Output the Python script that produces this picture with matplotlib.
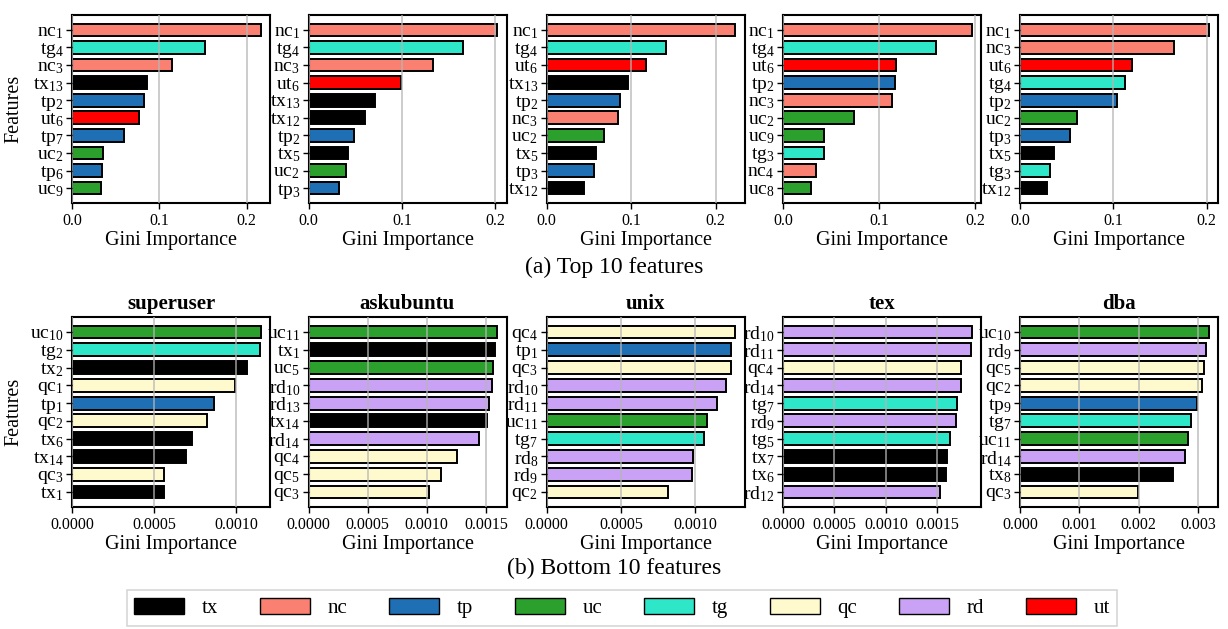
import matplotlib
matplotlib.use("Agg")
import matplotlib.pyplot as plt
from matplotlib.patches import Patch
from matplotlib.ticker import MultipleLocator, FormatStrFormatter

plt.rcParams["font.family"] = ["Liberation Serif", "DejaVu Serif"]
plt.rcParams["mathtext.fontset"] = "custom"
plt.rcParams["mathtext.rm"] = "Liberation Serif"
plt.rcParams["mathtext.it"] = "Liberation Serif:italic"
plt.rcParams["mathtext.bf"] = "Liberation Serif:bold"

# Feature-group colours
group_colors = {
    "tx": "#000000",
    "nc": "#FA8072",
    "tp": "#1F6FB4",
    "uc": "#2CA02C",
    "tg": "#2EE6C8",
    "qc": "#FFFACD",
    "rd": "#C9A2F6",
    "ut": "#FF0000",
}
legend_groups = ["tx", "nc", "tp", "uc", "tg", "qc", "rd", "ut"]

sites = ["superuser", "askubuntu", "unix", "tex", "dba"]

# Top 10 features per site (highest importance first)
top_features = [
    ["nc1", "tg4", "nc3", "tx13", "tp2", "ut6", "tp7", "uc2", "tp6", "uc9"],
    ["nc1", "tg4", "nc3", "ut6", "tx13", "tx12", "tp2", "tx5", "uc2", "tp3"],
    ["nc1", "tg4", "ut6", "tx13", "tp2", "nc3", "uc2", "tx5", "tp3", "tx12"],
    ["nc1", "tg4", "ut6", "tp2", "nc3", "uc2", "uc9", "tg3", "nc4", "uc8"],
    ["nc1", "nc3", "ut6", "tg4", "tp2", "uc2", "tp3", "tx5", "tg3", "tx12"],
]
top_values = [
    [0.216, 0.152, 0.114, 0.086, 0.083, 0.077, 0.060, 0.035, 0.034, 0.033],
    [0.202, 0.165, 0.133, 0.099, 0.071, 0.061, 0.049, 0.042, 0.040, 0.033],
    [0.223, 0.141, 0.118, 0.096, 0.087, 0.084, 0.068, 0.058, 0.056, 0.044],
    [0.196, 0.159, 0.117, 0.116, 0.113, 0.074, 0.043, 0.043, 0.034, 0.029],
    [0.202, 0.165, 0.120, 0.112, 0.104, 0.061, 0.054, 0.036, 0.032, 0.029],
]

# Bottom 10 features per site
bottom_features = [
    ["uc10", "tg2", "tx2", "qc1", "tp1", "qc2", "tx6", "tx14", "qc3", "tx1"],
    ["uc11", "tx1", "uc5", "rd10", "rd13", "tx14", "rd14", "qc4", "qc5", "qc3"],
    ["qc4", "tp1", "qc3", "rd10", "rd11", "uc11", "tg7", "rd8", "rd9", "qc2"],
    ["rd10", "rd11", "qc4", "rd14", "tg7", "rd9", "tg5", "tx7", "tx6", "rd12"],
    ["uc10", "rd9", "qc5", "qc2", "tp9", "tg7", "uc11", "rd14", "tx8", "qc3"],
]
bottom_values = [
    [0.001150, 0.001144, 0.001065, 0.000992, 0.000866, 0.000824, 0.000731, 0.000693, 0.000564, 0.000563],
    [0.001594, 0.001577, 0.001563, 0.001549, 0.001523, 0.001512, 0.001444, 0.001253, 0.001120, 0.001016],
    [0.001268, 0.001243, 0.001239, 0.001210, 0.001144, 0.001081, 0.001061, 0.000983, 0.000981, 0.000815],
    [0.001832, 0.001826, 0.001732, 0.001728, 0.001693, 0.001680, 0.001618, 0.001592, 0.001583, 0.001530],
    [0.003175, 0.003125, 0.003103, 0.003064, 0.002979, 0.002878, 0.002828, 0.002777, 0.002580, 0.001990],
]

bottom_steps = [0.0005, 0.0005, 0.0005, 0.0005, 0.001]
bottom_formats = ["%.4f", "%.4f", "%.4f", "%.4f", "%.3f"]

W, H = 1228, 629
fig = plt.figure(figsize=(W / 100, H / 100), dpi=100)

col_left = [72, 308.5, 546.5, 783, 1020]
col_width = 198


def label_tex(name):
    grp = name[:2]
    idx = name[2:]
    return r"$\mathrm{%s}_{%s}$" % (grp, idx)


def draw_panel(ax, feats, vals, step, fmt):
    y = list(range(len(feats)))
    colors = [group_colors[f[:2]] for f in feats]
    ax.barh(y, vals, height=0.72, color=colors, edgecolor="black", linewidth=1.4)
    ax.set_yticks(y)
    ax.set_yticklabels([label_tex(f) for f in feats], fontsize=14)
    ax.invert_yaxis()
    ax.xaxis.set_major_locator(MultipleLocator(step))
    ax.xaxis.set_major_formatter(FormatStrFormatter(fmt))
    ax.tick_params(axis="x", labelsize=11.5, length=4, width=1, pad=3)
    ax.tick_params(axis="y", length=4, width=1, pad=2)
    ax.set_axisbelow(False)
    ax.grid(axis="x", color="#b5b5b5", linewidth=1.2, alpha=0.8)
    ax.grid(axis="y", visible=False)
    for s in ax.spines.values():
        s.set_linewidth(1.5)
        s.set_color("black")
    ax.set_xlabel("Gini Importance", fontsize=14.5, labelpad=2)


# Top row
for i in range(5):
    ax = fig.add_axes([col_left[i] / W, 1 - 203 / H, col_width / W, 188 / H])
    draw_panel(ax, top_features[i], top_values[i], 0.1, "%.1f")
    if i == 0:
        ax.set_ylabel("Features", fontsize=14.5)
        ax.yaxis.set_label_coords(-0.245, 0.5)

# Bottom row
for i in range(5):
    ax = fig.add_axes([col_left[i] / W, 1 - 507 / H, col_width / W, 190 / H])
    draw_panel(ax, bottom_features[i], bottom_values[i], bottom_steps[i], bottom_formats[i])
    ax.set_title(sites[i], fontsize=15, fontweight="bold", pad=6)
    if i == 0:
        ax.set_ylabel("Features", fontsize=14.5)
        ax.yaxis.set_label_coords(-0.245, 0.5)

fig.text(614 / W, 1 - 267 / H, "(a) Top 10 features", ha="center", va="center", fontsize=17)
fig.text(614 / W, 1 - 568 / H, "(b) Bottom 10 features", ha="center", va="center", fontsize=17)

handles = [Patch(facecolor=group_colors[g], edgecolor="black", linewidth=1.0, label=g)
           for g in legend_groups]
leg = fig.legend(handles=handles, loc="center", ncol=8,
                 bbox_to_anchor=(622 / W, 1 - 608 / H), fontsize=15,
                 frameon=True, fancybox=False, edgecolor="#cccccc",
                 handlelength=2.4, handleheight=0.85, columnspacing=2.0,
                 handletextpad=0.85, borderpad=0.35)
leg.get_frame().set_linewidth(1.2)

fig.savefig("out.png", dpi=100, facecolor="white")
